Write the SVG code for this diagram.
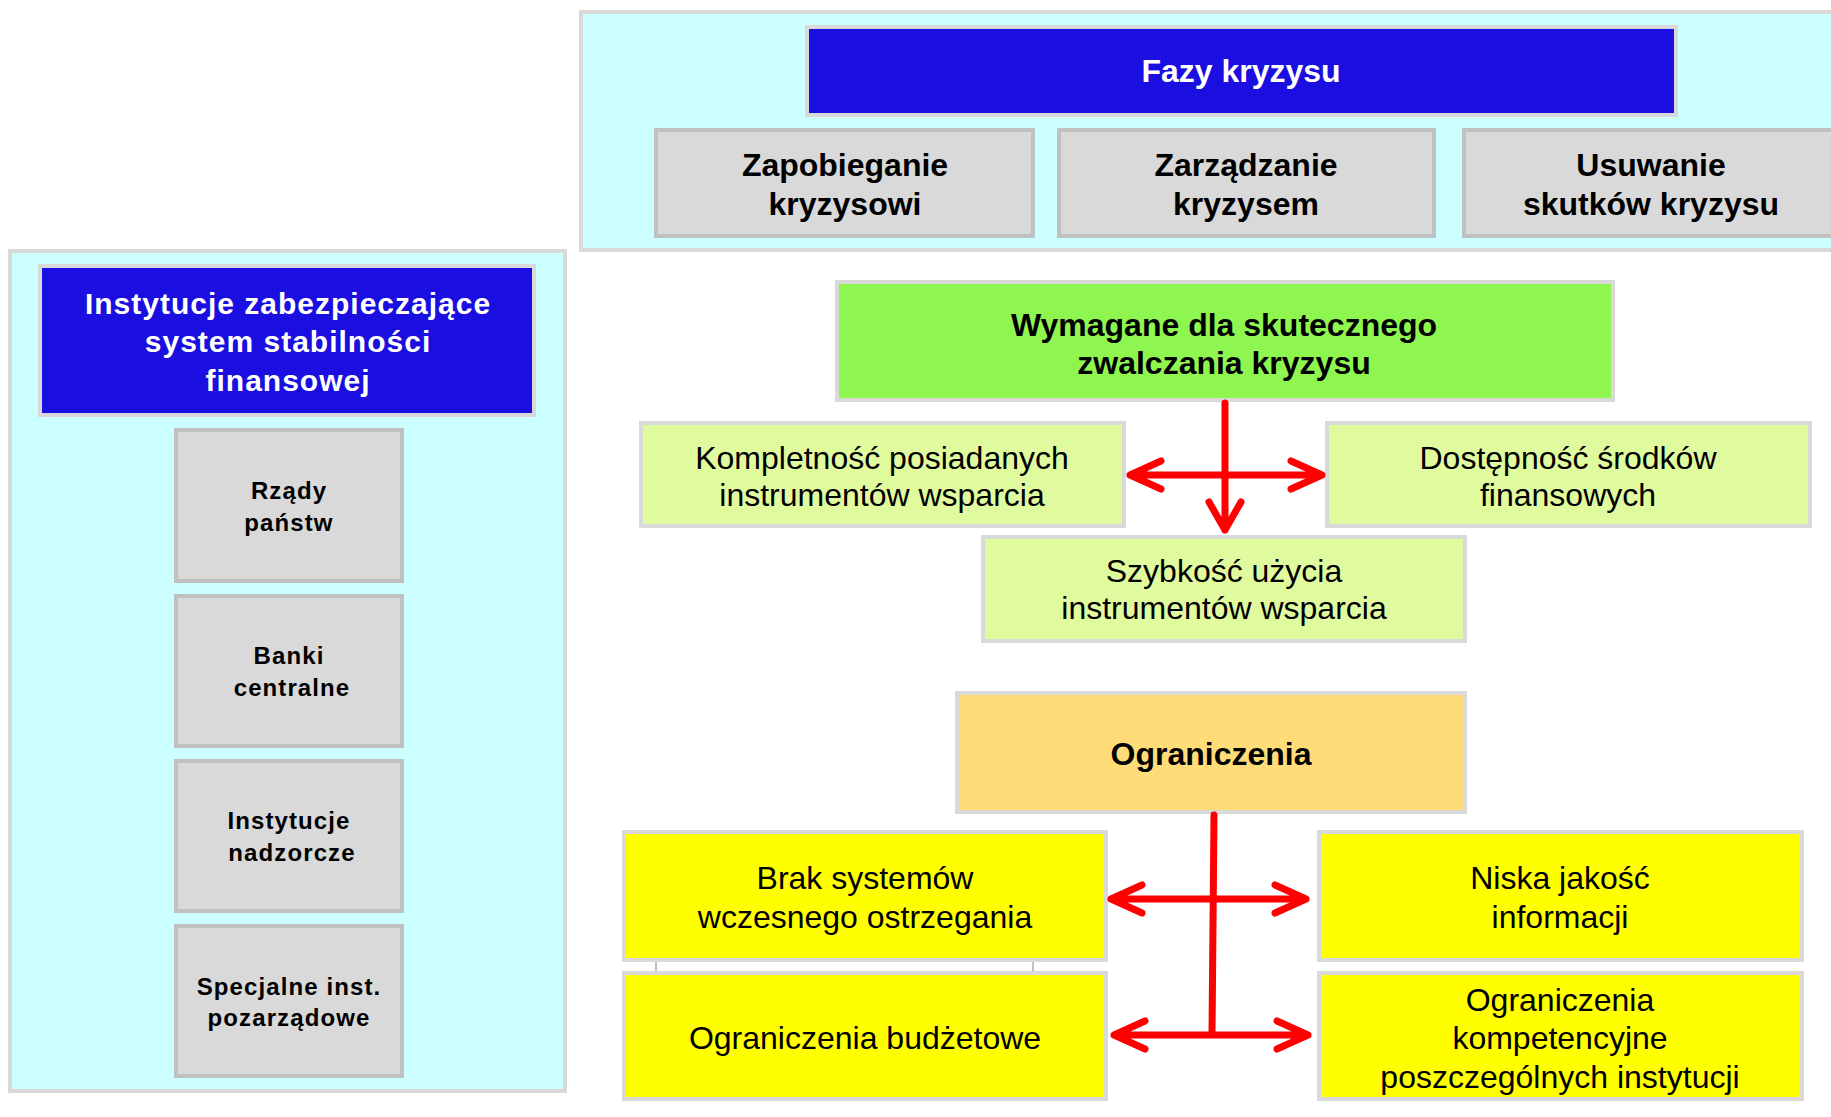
<svg xmlns="http://www.w3.org/2000/svg" width="1831" height="1117" viewBox="0 0 1831 1117">
<style>
.cont{fill:#ccffff;stroke:#d9d9d9;stroke-width:4}
.blue{fill:#1a0ee0;stroke:#d9d9d9;stroke-width:4}
.gray{fill:#d9d9d9;stroke:#c0c0c0;stroke-width:4}
.green{fill:#8ef64f;stroke:#d9d9d9;stroke-width:4}
.lgreen{fill:#e0fa9e;stroke:#d9d9d9;stroke-width:4}
.orange{fill:#ffdc78;stroke:#d9d9d9;stroke-width:4}
.yellow{fill:#ffff00;stroke:#d9d9d9;stroke-width:4}
text{font-family:"Liberation Sans",Arial,sans-serif;text-anchor:middle;fill:#000}
.b32{font-size:32px;font-weight:bold}
.r32{font-size:32px}
.wt{fill:#fff}
.lh{font-size:30px;font-weight:bold;letter-spacing:1px}
.ls{font-size:24px;font-weight:bold;letter-spacing:1.1px}
.arr{fill:none;stroke:#ff0000;stroke-width:7;stroke-linecap:round;stroke-linejoin:round}
</style>
<rect width="1831" height="1117" fill="#fff"/>
<g id="phases-container"><rect class="cont" x="581" y="12" width="1262" height="238"/></g>
<g id="fazy"><rect class="blue" x="807" y="27" width="869" height="88"/><text class="b32 wt" x="1241" y="82">Fazy kryzysu</text></g>
<g id="zapobieganie"><rect class="gray" x="656" y="130" width="377" height="106"/><text class="b32" x="845" y="176">Zapobieganie</text><text class="b32" x="845" y="215">kryzysowi</text></g>
<g id="zarzadzanie"><rect class="gray" x="1059" y="130" width="375" height="106"/><text class="b32" x="1246" y="176">Zarządzanie</text><text class="b32" x="1246" y="215">kryzysem</text></g>
<g id="usuwanie"><rect class="gray" x="1464" y="130" width="376" height="106"/><text class="b32" x="1651" y="176">Usuwanie</text><text class="b32" x="1651" y="215">skutków kryzysu</text></g>
<g id="inst-container"><rect class="cont" x="10" y="251" width="555" height="840"/></g>
<g id="instytucje"><rect class="blue" x="40" y="266" width="494" height="149"/><text class="lh wt" x="288" y="314">Instytucje zabezpieczające</text><text class="lh wt" x="288" y="352">system stabilności</text><text class="lh wt" x="288" y="391">finansowej</text></g>
<g id="rzady"><rect class="gray" x="176" y="430" width="226" height="151"/><text class="ls" x="289" y="499">Rządy</text><text class="ls" x="289" y="531">państw</text></g>
<g id="banki"><rect class="gray" x="176" y="596" width="226" height="150"/><text class="ls" x="289" y="664">Banki</text><text class="ls" x="292" y="696">centralne</text></g>
<g id="nadzorcze"><rect class="gray" x="176" y="761" width="226" height="150"/><text class="ls" x="289" y="829">Instytucje</text><text class="ls" x="292" y="861">nadzorcze</text></g>
<g id="specjalne"><rect class="gray" x="176" y="926" width="226" height="150"/><text class="ls" x="289" y="995">Specjalne inst.</text><text class="ls" x="289" y="1026">pozarządowe</text></g>
<g id="wymagane"><rect class="green" x="837" y="282" width="776" height="118"/><text class="b32" x="1224" y="336">Wymagane dla skutecznego</text><text class="b32" x="1224" y="374">zwalczania kryzysu</text></g>
<g id="kompletnosc"><rect class="lgreen" x="641" y="423" width="483" height="103"/><text class="r32" x="882" y="469">Kompletność posiadanych</text><text class="r32" x="882" y="506">instrumentów wsparcia</text></g>
<g id="dostepnosc"><rect class="lgreen" x="1327" y="423" width="483" height="103"/><text class="r32" x="1568" y="469">Dostępność środków</text><text class="r32" x="1568" y="506">finansowych</text></g>
<g id="szybkosc"><rect class="lgreen" x="983" y="537" width="482" height="104"/><text class="r32" x="1224" y="582">Szybkość użycia</text><text class="r32" x="1224" y="619">instrumentów wsparcia</text></g>
<g id="ograniczenia"><rect class="orange" x="957" y="693" width="508" height="119"/><text class="b32" x="1211" y="765">Ograniczenia</text></g>
<g id="brak"><rect class="yellow" x="624" y="832" width="482" height="128"/><text class="r32" x="865" y="889">Brak systemów</text><text class="r32" x="865" y="928">wczesnego ostrzegania</text></g>
<g id="niska"><rect class="yellow" x="1319" y="832" width="483" height="128"/><text class="r32" x="1560" y="889">Niska jakość</text><text class="r32" x="1560" y="928">informacji</text></g>
<g id="budzetowe"><rect class="yellow" x="624" y="973" width="482" height="126"/><text class="r32" x="865" y="1049">Ograniczenia budżetowe</text></g>
<g id="kompetencyjne"><rect class="yellow" x="1319" y="973" width="483" height="126"/><text class="r32" x="1560" y="1011">Ograniczenia</text><text class="r32" x="1560" y="1049">kompetencyjne</text><text class="r32" x="1560" y="1088">poszczególnych instytucji</text></g>
<g id="connectors">
<line x1="656" y1="962" x2="656" y2="971" stroke="#bfbfbf" stroke-width="2"/>
<line x1="1033" y1="962" x2="1033" y2="971" stroke="#bfbfbf" stroke-width="2"/>
<path class="arr" d="M1225 403 V530 M1130 475 H1322 M1161 461 L1130 475 L1161 489 M1291 461 L1322 475 L1291 489 M1209 502 L1225 530 L1241 502"/>
<path class="arr" d="M1214 815 L1212 1035 M1111 899 H1306 M1142 885 L1111 899 L1142 913 M1275 885 L1306 899 L1275 913 M1114 1035 H1308 M1145 1021 L1114 1035 L1145 1049 M1277 1021 L1308 1035 L1277 1049"/>
</g>
</svg>
